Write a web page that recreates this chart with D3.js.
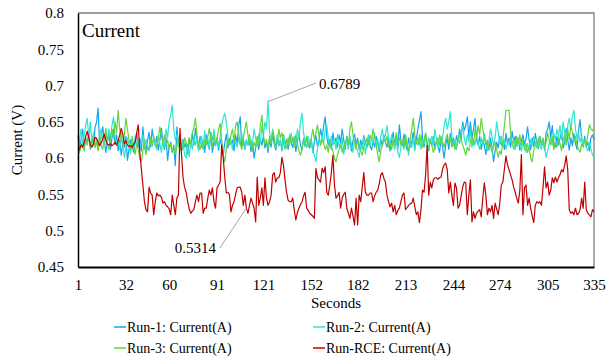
<!DOCTYPE html>
<html>
<head>
<meta charset="utf-8">
<script src="https://cdn.jsdelivr.net/npm/d3@7"></script>
<style>
  html, body { margin: 0; padding: 0; background: #fff; }
  svg { display: block; font-family: "Liberation Serif", "Times New Roman", serif; }
</style>
</head>
<body>
<svg id="chart" width="614" height="359"></svg>
<script>
// Seconds axis tick labels
const xTicks = [1, 32, 60, 91, 121, 152, 182, 213, 244, 274, 305, 335];
const yTicks = [0.45, 0.5, 0.55, 0.6, 0.65, 0.7, 0.75, 0.8];

const seriesNames = ["Run-1: Current(A)", "Run-2: Current(A)", "Run-3: Current(A)", "Run-RCE: Current(A)"];

const run1 = [
  0.632,0.610,0.625,0.640,0.615,0.628,0.621,0.636,0.612,0.630,
  0.618,0.642,0.650,0.669,0.618,0.630,0.643,0.625,0.608,0.622,
  0.635,0.612,0.628,0.640,0.619,0.632,0.610,0.625,0.604,0.620,
  0.615,0.630,0.597,0.612,0.625,0.618,0.608,0.622,0.635,0.615,
  0.628,0.610,0.643,0.618,0.609,0.624,0.636,0.615,0.640,0.626,
  0.618,0.630,0.611,0.625,0.641,0.620,0.612,0.628,0.597,0.615,
  0.622,0.608,0.618,0.590,0.643,0.620,0.632,0.610,0.626,0.615,
  0.621,0.605,0.628,0.615,0.634,0.618,0.641,0.625,0.612,0.630,
  0.615,0.625,0.608,0.632,0.620,0.612,0.636,0.608,0.622,0.617,
  0.628,0.611,0.626,0.618,0.603,0.621,0.633,0.614,0.627,0.619,
  0.625,0.610,0.632,0.620,0.645,0.657,0.615,0.628,0.612,0.624,
  0.618,0.632,0.609,0.622,0.600,0.615,0.628,0.612,0.625,0.618,
  0.630,0.614,0.622,0.608,0.626,0.615,0.633,0.620,0.611,0.628,
  0.617,0.625,0.610,0.632,0.619,0.626,0.612,0.630,0.621,0.615,
  0.628,0.609,0.622,0.635,0.618,0.611,0.627,0.616,0.630,0.620,
  0.614,0.626,0.608,0.622,0.631,0.617,0.625,0.640,0.628,0.645,
  0.657,0.630,0.618,0.626,0.612,0.635,0.620,0.628,0.615,0.632,
  0.621,0.640,0.625,0.612,0.630,0.618,0.627,0.610,0.624,0.633,
  0.619,0.628,0.612,0.625,0.616,0.631,0.622,0.614,0.627,0.618,
  0.611,0.624,0.615,0.630,0.620,0.609,0.626,0.617,0.632,0.622,
  0.615,0.628,0.610,0.624,0.636,0.618,0.630,0.612,0.646,0.625,
  0.617,0.633,0.620,0.611,0.628,0.615,0.622,0.636,0.613,0.627,
  0.640,0.652,0.664,0.628,0.615,0.632,0.620,0.610,0.625,0.618,
  0.630,0.612,0.624,0.617,0.608,0.626,0.615,0.600,0.618,0.628,
  0.612,0.634,0.620,0.628,0.615,0.631,0.622,0.640,0.626,0.650,
  0.638,0.645,0.657,0.630,0.650,0.628,0.640,0.655,0.625,0.618,
  0.630,0.612,0.625,0.618,0.605,0.622,0.611,0.628,0.615,0.595,
  0.610,0.622,0.614,0.630,0.618,0.625,0.612,0.634,0.620,0.628,
  0.615,0.637,0.622,0.630,0.617,0.626,0.611,0.624,0.632,0.619,
  0.627,0.643,0.625,0.612,0.628,0.616,0.634,0.621,0.613,0.630,
  0.618,0.626,0.611,0.635,0.640,0.650,0.628,0.645,0.622,0.615,
  0.630,0.618,0.627,0.636,0.614,0.622,0.641,0.625,0.611,0.628,
  0.617,0.634,0.620,0.612,0.638,0.653,0.626,0.618,0.630,0.615,
  0.622,0.610,0.628,0.632,0.625
];

const run2 = [
  0.597,0.625,0.640,0.618,0.632,0.645,0.655,0.628,0.650,0.622,
  0.635,0.615,0.628,0.612,0.630,0.640,0.625,0.618,0.633,0.622,
  0.640,0.628,0.645,0.657,0.630,0.618,0.626,0.612,0.635,0.620,
  0.601,0.615,0.628,0.618,0.606,0.622,0.612,0.630,0.618,0.625,
  0.615,0.622,0.632,0.612,0.626,0.618,0.610,0.625,0.616,0.628,
  0.618,0.612,0.630,0.620,0.608,0.626,0.615,0.640,0.628,0.650,
  0.660,0.673,0.640,0.625,0.632,0.615,0.628,0.610,0.622,0.604,
  0.600,0.618,0.602,0.625,0.612,0.630,0.618,0.626,0.610,0.622,
  0.630,0.615,0.638,0.620,0.628,0.612,0.634,0.625,0.640,0.618,
  0.628,0.615,0.630,0.645,0.655,0.662,0.650,0.630,0.618,0.625,
  0.612,0.630,0.622,0.615,0.628,0.618,0.634,0.620,0.612,0.626,
  0.618,0.630,0.615,0.622,0.640,0.628,0.616,0.633,0.620,0.645,
  0.630,0.650,0.640,0.6789,0.635,0.622,0.640,0.628,0.615,0.632,
  0.618,0.625,0.612,0.630,0.620,0.614,0.628,0.618,0.635,0.622,
  0.630,0.617,0.640,0.628,0.650,0.662,0.635,0.622,0.615,0.630,
  0.618,0.625,0.610,0.604,0.595,0.612,0.626,0.618,0.632,0.620,
  0.640,0.646,0.628,0.615,0.630,0.618,0.625,0.612,0.633,0.620,
  0.614,0.628,0.605,0.618,0.626,0.612,0.630,0.619,0.608,0.624,
  0.615,0.610,0.601,0.618,0.612,0.628,0.606,0.620,0.632,0.615,
  0.628,0.620,0.635,0.618,0.626,0.612,0.630,0.640,0.624,0.632,
  0.645,0.628,0.618,0.632,0.620,0.612,0.626,0.608,0.601,0.615,
  0.625,0.612,0.630,0.618,0.604,0.622,0.615,0.628,0.610,0.624,
  0.618,0.632,0.612,0.626,0.620,0.635,0.615,0.628,0.622,0.630,
  0.618,0.640,0.626,0.615,0.632,0.620,0.628,0.645,0.655,0.640,
  0.650,0.664,0.630,0.618,0.625,0.612,0.628,0.620,0.635,0.645,
  0.628,0.618,0.632,0.622,0.640,0.615,0.626,0.618,0.632,0.620,
  0.612,0.628,0.618,0.634,0.622,0.610,0.625,0.640,0.630,0.618,
  0.628,0.650,0.636,0.620,0.630,0.615,0.626,0.612,0.622,0.618,
  0.630,0.620,0.612,0.625,0.616,0.628,0.620,0.610,0.622,0.615,
  0.608,0.620,0.612,0.626,0.618,0.630,0.622,0.614,0.628,0.618,
  0.612,0.625,0.616,0.601,0.610,0.620,0.628,0.618,0.634,0.625,
  0.640,0.630,0.645,0.626,0.650,0.636,0.628,0.645,0.655,0.640,
  0.658,0.666,0.640,0.628,0.635,0.622,0.630,0.618,0.626,0.615,
  0.610,0.622,0.612,0.605,0.600
];

const run3 = [
  0.612,0.608,0.620,0.615,0.610,0.625,0.618,0.632,0.614,0.622,
  0.628,0.615,0.622,0.610,0.630,0.618,0.612,0.626,0.641,0.620,
  0.612,0.625,0.640,0.628,0.650,0.635,0.666,0.640,0.625,0.618,
  0.632,0.655,0.640,0.625,0.612,0.630,0.618,0.605,0.620,0.612,
  0.600,0.595,0.610,0.622,0.605,0.615,0.612,0.628,0.618,0.630,
  0.622,0.615,0.628,0.643,0.630,0.620,0.632,0.618,0.625,0.612,
  0.620,0.610,0.614,0.605,0.618,0.625,0.610,0.618,0.612,0.628,
  0.622,0.615,0.628,0.620,0.635,0.642,0.655,0.632,0.618,0.612,
  0.620,0.612,0.626,0.618,0.630,0.641,0.625,0.615,0.632,0.620,
  0.628,0.640,0.648,0.625,0.605,0.595,0.612,0.626,0.618,0.632,
  0.640,0.622,0.645,0.650,0.635,0.620,0.612,0.628,0.640,0.650,
  0.632,0.618,0.625,0.610,0.622,0.615,0.630,0.618,0.645,0.659,
  0.632,0.618,0.626,0.612,0.630,0.620,0.638,0.628,0.615,0.622,
  0.640,0.628,0.635,0.620,0.612,0.626,0.618,0.632,0.622,0.628,
  0.615,0.632,0.620,0.610,0.604,0.612,0.625,0.618,0.630,0.615,
  0.622,0.628,0.640,0.626,0.635,0.646,0.630,0.618,0.625,0.620,
  0.612,0.618,0.608,0.622,0.615,0.610,0.600,0.595,0.605,0.612,
  0.620,0.608,0.615,0.622,0.628,0.618,0.640,0.650,0.632,0.620,
  0.612,0.625,0.618,0.610,0.604,0.615,0.620,0.628,0.618,0.632,
  0.625,0.640,0.628,0.618,0.605,0.595,0.610,0.618,0.626,0.622,
  0.630,0.615,0.620,0.612,0.625,0.618,0.635,0.622,0.628,0.618,
  0.624,0.615,0.632,0.618,0.610,0.625,0.640,0.655,0.632,0.620,
  0.628,0.618,0.632,0.615,0.625,0.634,0.620,0.612,0.626,0.618,
  0.608,0.615,0.622,0.628,0.618,0.630,0.622,0.615,0.626,0.633,
  0.620,0.628,0.615,0.622,0.612,0.618,0.626,0.632,0.625,0.618,
  0.612,0.604,0.615,0.610,0.622,0.630,0.618,0.640,0.628,0.645,
  0.632,0.655,0.640,0.628,0.618,0.625,0.612,0.618,0.608,0.615,
  0.622,0.612,0.601,0.610,0.605,0.625,0.645,0.666,0.666,0.666,
  0.635,0.618,0.625,0.612,0.630,0.620,0.632,0.618,0.626,0.612,
  0.620,0.608,0.615,0.600,0.595,0.610,0.618,0.625,0.615,0.630,
  0.620,0.628,0.615,0.622,0.635,0.625,0.618,0.630,0.612,0.622,
  0.615,0.628,0.620,0.610,0.625,0.632,0.618,0.640,0.625,0.646,
  0.635,0.622,0.630,0.618,0.612,0.608,0.620,0.615,0.625,0.618,
  0.632,0.646,0.640,0.638,0.642
];

const runRCE = [
  0.614,0.612,0.618,0.615,0.622,0.630,0.637,0.628,0.618,0.615,
  0.620,0.629,0.627,0.622,0.617,0.621,0.626,0.633,0.625,0.619,
  0.618,0.620,0.617,0.619,0.622,0.618,0.624,0.632,0.641,0.633,
  0.620,0.624,0.618,0.616,0.617,0.615,0.619,0.622,0.635,0.646,
  0.608,0.585,0.563,0.540,0.529,0.526,0.560,0.552,0.549,0.522,
  0.540,0.552,0.548,0.549,0.546,0.538,0.540,0.535,0.533,0.530,
  0.522,0.549,0.535,0.522,0.545,0.549,0.641,0.605,0.573,0.560,
  0.553,0.540,0.530,0.524,0.527,0.529,0.540,0.549,0.540,0.552,
  0.552,0.524,0.531,0.531,0.545,0.556,0.549,0.559,0.540,0.531,
  0.559,0.563,0.567,0.618,0.600,0.574,0.552,0.553,0.550,0.526,
  0.535,0.540,0.550,0.559,0.560,0.560,0.553,0.535,0.549,0.5314,
  0.524,0.535,0.545,0.538,0.531,0.512,0.574,0.535,0.545,0.559,
  0.535,0.573,0.545,0.535,0.540,0.549,0.577,0.580,0.567,0.573,
  0.573,0.580,0.601,0.590,0.570,0.553,0.542,0.540,0.540,0.545,
  0.528,0.515,0.525,0.531,0.536,0.540,0.548,0.553,0.531,0.528,
  0.524,0.522,0.520,0.517,0.586,0.573,0.570,0.567,0.586,0.580,
  0.588,0.553,0.549,0.563,0.580,0.604,0.563,0.545,0.548,0.553,
  0.531,0.545,0.550,0.553,0.531,0.524,0.517,0.531,0.520,0.508,
  0.545,0.508,0.549,0.540,0.560,0.580,0.553,0.549,0.549,0.552,
  0.552,0.540,0.548,0.553,0.556,0.565,0.577,0.580,0.572,0.567,
  0.549,0.540,0.533,0.538,0.526,0.535,0.522,0.528,0.531,0.540,
  0.549,0.552,0.529,0.532,0.535,0.537,0.538,0.545,0.533,0.522,
  0.526,0.511,0.529,0.556,0.553,0.577,0.618,0.549,0.567,0.559,
  0.570,0.573,0.573,0.571,0.573,0.574,0.585,0.591,0.593,0.584,
  0.552,0.567,0.549,0.535,0.566,0.559,0.531,0.535,0.548,0.560,
  0.567,0.566,0.522,0.549,0.570,0.512,0.526,0.517,0.524,0.527,
  0.529,0.519,0.545,0.566,0.549,0.522,0.531,0.526,0.535,0.517,
  0.538,0.530,0.522,0.538,0.563,0.567,0.585,0.603,0.591,0.584,
  0.577,0.570,0.560,0.553,0.545,0.538,0.556,0.605,0.522,0.559,
  0.563,0.535,0.545,0.531,0.520,0.511,0.535,0.540,0.538,0.540,
  0.535,0.560,0.588,0.559,0.567,0.549,0.556,0.573,0.566,0.574,
  0.567,0.573,0.577,0.584,0.581,0.590,0.603,0.584,0.529,0.524,
  0.526,0.522,0.531,0.522,0.524,0.529,0.545,0.531,0.567,0.529,
  0.524,0.522,0.519,0.529,0.526
];

const colors = ["#14a3ef", "#2ee6cf", "#62d43c", "#c00000"];
const allSeries = [run1, run2, run3, runRCE];

const svg = d3.select("#chart");
const plot = { left: 78, right: 594, top: 13, bottom: 267 };

const x = d3.scaleLinear().domain([1, 335]).range([plot.left, plot.right]);
const y = d3.scaleLinear().domain([0.45, 0.8]).range([plot.bottom, plot.top]);

// frame: grey top/right borders
svg.append("path")
  .attr("d", `M${plot.left},${plot.top}H${plot.right}V${plot.bottom}`)
  .attr("fill", "none").attr("stroke", "#7f7f7f").attr("stroke-width", 1.3);

// series lines
const line = d3.line().x((d, i) => x(i + 1)).y(d => y(d));
allSeries.forEach((s, k) => {
  svg.append("path")
    .datum(s)
    .attr("fill", "none")
    .attr("stroke", colors[k])
    .attr("stroke-width", 1.2)
    .attr("stroke-linejoin", "round")
    .attr("d", line);
});

// axes
const yAxis = d3.axisLeft(y).tickValues(yTicks).tickSize(0).tickPadding(14)
  .tickFormat(d => String(+d.toFixed(2)));
const gy = svg.append("g").attr("transform", `translate(${plot.left},0)`).call(yAxis);
gy.select(".domain").attr("stroke", "#000").attr("stroke-width", 1.5);
gy.selectAll("text").attr("font-size", 15).attr("fill", "#000")
  .attr("font-family", "Liberation Serif, serif");

const xAxis = d3.axisBottom(x).tickValues(xTicks).tickSize(0).tickPadding(12);
const gx = svg.append("g").attr("transform", `translate(0,${plot.bottom})`).call(xAxis);
gx.select(".domain").attr("stroke", "#000").attr("stroke-width", 2);
gx.selectAll("text").attr("font-size", 15).attr("fill", "#000")
  .attr("font-family", "Liberation Serif, serif");

// titles
svg.append("text").attr("x", 82).attr("y", 37).attr("font-size", 19).text("Current");
svg.append("text").attr("x", plot.left + (plot.right - plot.left) / 2).attr("y", 308)
  .attr("text-anchor", "middle").attr("font-size", 15).text("Seconds");
svg.append("text")
  .attr("transform", `translate(22,${(plot.top + plot.bottom) / 2}) rotate(-90)`)
  .attr("text-anchor", "middle").attr("font-size", 15).text("Current (V)");

// data callouts
const maxIdx = run2.indexOf(d3.max(run2));
const minIdx = 109;
const callouts = [
  { px: x(maxIdx + 1), py: y(run2[maxIdx]), mx: x(maxIdx + 1) + 2, lx: 316, ly: 83, tx: 319, ty: 89, value: run2[maxIdx] },
  { px: x(minIdx + 1), py: y(runRCE[minIdx]), mx: null, lx: 220, ly: 248, tx: 216, ty: 253, value: runRCE[minIdx], anchor: "end" }
];
callouts.forEach(c => {
  const pts = c.mx ? [[c.px, c.py], [c.mx, c.py], [c.lx, c.ly]] : [[c.px, c.py], [c.lx, c.ly]];
  svg.append("path").attr("d", d3.line()(pts))
    .attr("fill", "none").attr("stroke", "#a6a6a6").attr("stroke-width", 1);
  svg.append("text").attr("x", c.tx).attr("y", c.ty).attr("font-size", 15)
    .attr("text-anchor", c.anchor || "start").text(c.value.toFixed(4));
});

// legend
const legendPos = [[114, 327], [313, 327], [114, 348], [313, 348]];
seriesNames.forEach((name, k) => {
  const [lx, ly] = legendPos[k];
  svg.append("line").attr("x1", lx).attr("x2", lx + 12).attr("y1", ly).attr("y2", ly)
    .attr("stroke", colors[k]).attr("stroke-width", 1.5);
  svg.append("text").attr("x", lx + 13).attr("y", ly + 5).attr("font-size", 14).text(name);
});
</script>
</body>
</html>
